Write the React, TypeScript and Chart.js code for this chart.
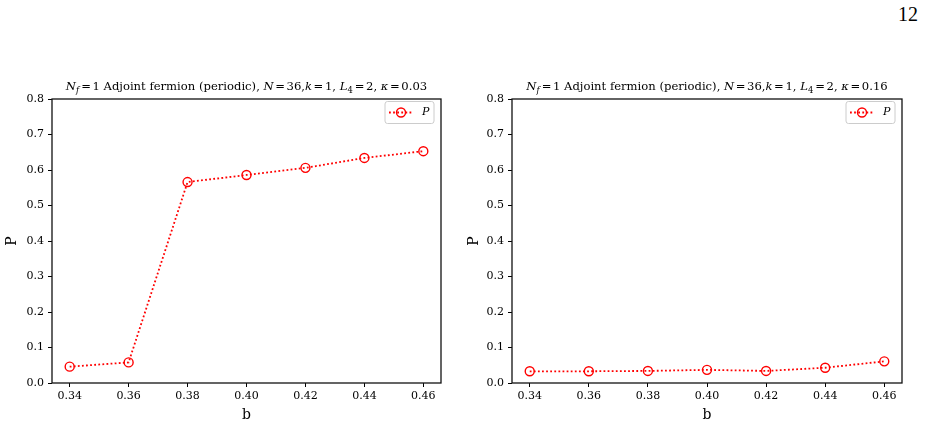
import React, { useEffect, useRef } from "react";
import { Chart, registerables } from "chart.js";

Chart.register(...registerables);

// ---- data ----
const bValues = [0.34, 0.36, 0.38, 0.4, 0.42, 0.44, 0.46];
const pKappa003 = [0.046, 0.058, 0.566, 0.586, 0.606, 0.634, 0.653];
const pKappa016 = [0.033, 0.033, 0.034, 0.037, 0.034, 0.043, 0.061];
const xTicks = [0.34, 0.36, 0.38, 0.4, 0.42, 0.44, 0.46];
const yTicks = [0, 0.1, 0.2, 0.3, 0.4, 0.5, 0.6, 0.7, 0.8];
const seriesLabel = "P";
const xLabel = "b";
const yLabel = "P";
const kappaLeft = "0.03";
const kappaRight = "0.16";
const pageNumber = "12";

const FONT = "'DejaVu Serif', serif";
const RED = "#ff0000";

type Seg = { t: string; i?: boolean; sub?: boolean; rel?: boolean };

function titleSegs(kappa: string): Seg[] {
  return [
    { t: "N", i: true },
    { t: "f", i: true, sub: true },
    { t: "=", rel: true },
    { t: "1" },
    { t: " Adjoint fermion (periodic), " },
    { t: "N", i: true },
    { t: "=", rel: true },
    { t: "36," },
    { t: "k", i: true },
    { t: "=", rel: true },
    { t: "1, " },
    { t: "L", i: true },
    { t: "4", sub: true },
    { t: "=", rel: true },
    { t: "2, " },
    { t: "κ", i: true },
    { t: "=", rel: true },
    { t: kappa },
  ];
}

const mathTitlePlugin = {
  id: "mathTitle",
  afterDraw(chart: any, _args: any, opts: any) {
    const segs: Seg[] = opts.segs || [];
    const ctx = chart.ctx;
    const size = 11.6;
    const fontFor = (s: Seg) =>
      `${s.i ? "italic " : ""}${s.sub ? size * 0.72 : size}px ${FONT}`;
    const relPad = 1.6;
    let total = 0;
    const widths = segs.map((s) => {
      ctx.font = fontFor(s);
      let w = ctx.measureText(s.t).width;
      if (s.rel) w += relPad * 2;
      if (s.sub) w += 0.5;
      total += w;
      return w;
    });
    const ca = chart.chartArea;
    let x = (ca.left + ca.right) / 2 - total / 2;
    const base = ca.top - 9;
    ctx.save();
    ctx.fillStyle = "#000";
    ctx.textBaseline = "alphabetic";
    ctx.textAlign = "left";
    segs.forEach((s, k) => {
      ctx.font = fontFor(s);
      const dx = s.rel ? relPad : 0;
      ctx.fillText(s.t, x + dx, base + (s.sub ? 2.8 : 0));
      x += widths[k];
    });
    ctx.restore();
  },
};

const framePlugin = {
  id: "frame",
  afterDraw(chart: any) {
    const { left, top, right, bottom } = chart.chartArea;
    const ctx = chart.ctx;
    ctx.save();
    ctx.strokeStyle = "#111";
    ctx.lineWidth = 1.3;
    ctx.strokeRect(left, top, right - left, bottom - top);
    ctx.restore();
  },
};

const customLegendPlugin = {
  id: "customLegend",
  afterDraw(chart: any) {
    const ctx = chart.ctx;
    const ca = chart.chartArea;
    const ds = chart.data.datasets[0];
    const w = 49;
    const h = 22;
    const x0 = ca.right - 7 - w;
    const y0 = ca.top + 2.5;
    ctx.save();
    const r = 2.5;
    ctx.beginPath();
    ctx.moveTo(x0 + r, y0);
    ctx.lineTo(x0 + w - r, y0);
    ctx.arcTo(x0 + w, y0, x0 + w, y0 + r, r);
    ctx.lineTo(x0 + w, y0 + h - r);
    ctx.arcTo(x0 + w, y0 + h, x0 + w - r, y0 + h, r);
    ctx.lineTo(x0 + r, y0 + h);
    ctx.arcTo(x0, y0 + h, x0, y0 + h - r, r);
    ctx.lineTo(x0, y0 + r);
    ctx.arcTo(x0, y0, x0 + r, y0, r);
    ctx.closePath();
    ctx.fillStyle = "rgba(255,255,255,0.8)";
    ctx.fill();
    ctx.strokeStyle = "#cccccc";
    ctx.lineWidth = 1;
    ctx.stroke();
    const cy = y0 + h / 2;
    const lx0 = x0 + 4;
    const lx1 = x0 + 28;
    ctx.strokeStyle = ds.borderColor;
    ctx.lineWidth = ds.borderWidth;
    ctx.setLineDash(ds.borderDash);
    ctx.beginPath();
    ctx.moveTo(lx0, cy);
    ctx.lineTo(lx1, cy);
    ctx.stroke();
    ctx.setLineDash([]);
    ctx.beginPath();
    ctx.arc((lx0 + lx1) / 2, cy, ds.pointRadius, 0, Math.PI * 2);
    ctx.lineWidth = ds.pointBorderWidth;
    ctx.stroke();
    ctx.fillStyle = "#000";
    ctx.font = `italic 11px ${FONT}`;
    ctx.textBaseline = "middle";
    ctx.textAlign = "left";
    ctx.fillText(ds.label, x0 + 37, cy);
    ctx.restore();
  },
};

function makeConfig(values: number[], kappa: string, yScaleWidth: number, padRight: number) {
  return {
    type: "line" as const,
    data: {
      datasets: [
        {
          label: seriesLabel,
          data: bValues.map((b, k) => ({ x: b, y: values[k] })),
          borderColor: RED,
          borderWidth: 1.8,
          borderDash: [1.8, 2.3],
          borderCapStyle: "butt",
          fill: false,
          tension: 0,
          pointRadius: 4.5,
          pointBorderWidth: 1.4,
          pointBorderColor: RED,
          pointBackgroundColor: "rgba(0,0,0,0)",
          pointStyle: "circle",
        },
      ],
    },
    options: {
      animation: false,
      responsive: false,
      devicePixelRatio: 1,
      layout: { padding: { top: 99, right: padRight, left: 0, bottom: 0 } },
      plugins: {
        legend: { display: false },
        tooltip: { enabled: false },
        title: { display: false },
        mathTitle: { segs: titleSegs(kappa) },
      },
      scales: {
        x: {
          type: "linear",
          min: 0.334,
          max: 0.466,
          afterBuildTicks: (scale: any) => {
            scale.ticks = xTicks.map((v) => ({ value: v }));
          },
          afterFit: (scale: any) => {
            scale.height = 43;
          },
          ticks: {
            autoSkip: false,
            maxRotation: 0,
            padding: 3,
            color: "#000",
            font: { family: FONT, size: 11 },
            callback: (v: any) => Number(v).toFixed(2),
          },
          grid: {
            drawOnChartArea: false,
            drawTicks: true,
            tickLength: 4,
            tickColor: "#000",
            tickWidth: 1,
          },
          border: { display: false },
          title: {
            display: true,
            text: xLabel,
            color: "#000",
            font: { family: FONT, size: 14 },
            padding: { top: 0, bottom: 2.6 },
          },
        },
        y: {
          type: "linear",
          min: 0,
          max: 0.8,
          afterBuildTicks: (scale: any) => {
            scale.ticks = yTicks.map((v) => ({ value: v }));
          },
          afterFit: (scale: any) => {
            scale.width = yScaleWidth;
          },
          ticks: {
            autoSkip: false,
            padding: 4,
            color: "#000",
            font: { family: FONT, size: 11 },
            callback: (v: any) => Number(v).toFixed(1),
          },
          grid: {
            drawOnChartArea: false,
            drawTicks: true,
            tickLength: 4,
            tickColor: "#000",
            tickWidth: 1,
          },
          border: { display: false },
          title: {
            display: true,
            text: yLabel,
            color: "#000",
            font: { family: FONT, size: 14 },
            padding: { top: 3.6, bottom: 0 },
          },
        },
      },
    },
    plugins: [framePlugin, mathTitlePlugin, customLegendPlugin],
  };
}

function Panel(props: {
  values: number[];
  kappa: string;
  left: number;
  width: number;
  yScaleWidth: number;
  padRight: number;
}) {
  const ref = useRef<HTMLCanvasElement | null>(null);
  useEffect(() => {
    if (!ref.current) return;
    const chart = new Chart(
      ref.current,
      makeConfig(props.values, props.kappa, props.yScaleWidth, props.padRight) as any
    );
    return () => chart.destroy();
  }, []);
  return (
    <canvas
      ref={ref}
      width={props.width}
      height={426}
      style={{
        position: "absolute",
        left: props.left,
        top: 0,
        width: props.width,
        height: 426,
      }}
    />
  );
}

export default function App() {
  return (
    <div
      style={{
        position: "absolute",
        left: 0,
        top: 0,
        width: 925,
        height: 426,
        background: "#fff",
        overflow: "hidden",
      }}
    >
      <div
        style={{
          position: "absolute",
          left: 898,
          top: 2,
          fontFamily: "'Liberation Serif', serif",
          fontSize: 20,
          lineHeight: "24px",
          color: "#000",
        }}
      >
        {pageNumber}
      </div>
      <Panel values={pKappa003} kappa={kappaLeft} left={0} width={462} yScaleWidth={52} padRight={21} />
      <Panel values={pKappa016} kappa={kappaRight} left={462} width={463} yScaleWidth={50} padRight={23} />
    </div>
  );
}
